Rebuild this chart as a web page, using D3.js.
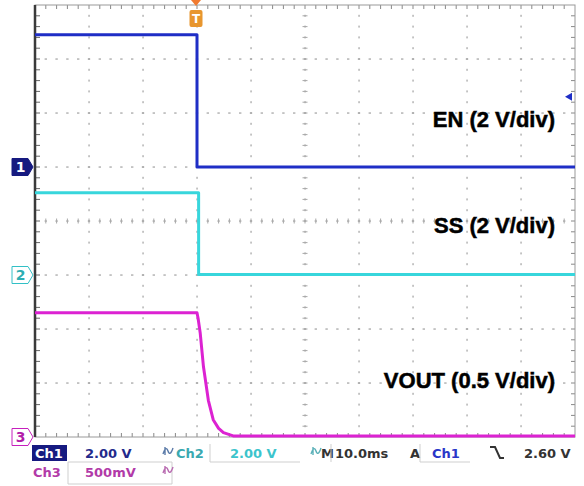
<!DOCTYPE html>
<html>
<head>
<meta charset="utf-8">
<script src="https://cdn.jsdelivr.net/npm/d3@7"></script>
<style>
  html, body { margin: 0; padding: 0; background: #fff; }
  svg { display: block; }
</style>
</head>
<body>
<svg id="scope" width="584" height="486"></svg>
<script>
// Capture: 10 ms/div, trigger on Ch1 falling edge at 2.60 V
const timeMs   = [0, 30, 30, 100];
const enVolts  = [4.9, 4.9, 0, 0];
const ssTime   = [0, 30.3, 30.3, 100];
const ssVolts  = [3.05, 3.05, 0.02, 0.02];
const voutTime = [0, 30.0, 30.2, 30.6, 31.2, 32.1, 33.0, 34.0, 34.9, 36.7, 100];
const voutVolts= [1.15, 1.15, 1.10, 0.96, 0.65, 0.34, 0.16, 0.08, 0.04, 0.01, 0.01];

const channels = [
  { name: "EN",   label: "EN (2 V/div)",     t: timeMs,   v: enVolts,   vdiv: 2,   offset: 5, color: "#1f2ec6", marker: "1" },
  { name: "SS",   label: "SS (2 V/div)",     t: ssTime,   v: ssVolts,   vdiv: 2,   offset: 3, color: "#38d6dc", marker: "2" },
  { name: "VOUT", label: "VOUT (0.5 V/div)", t: voutTime, v: voutVolts, vdiv: 0.5, offset: 0, color: "#dc22d2", marker: "3" }
];
const triggerTime = 30;
const triggerLevel = 2.6;

const svg = d3.select("#scope");
const L = 35, R = 575, T = 5, B = 437;
const x = d3.scaleLinear().domain([0, 100]).range([L, R]);
const yDiv = d3.scaleLinear().domain([0, 8]).range([B, T]);
const divW = (R - L) / 10, divH = (B - T) / 8;

// graticule
const grid = svg.append("g");
const gridCol = "#a8a8a8";
for (let i = 1; i < 10; i++) {
  const gx = L + i * divW;
  for (let k = 1; k < 40; k++) {
    const gy = T + k * divH / 5;
    grid.append("rect").attr("x", gx - 0.6).attr("y", gy - 1).attr("width", 1.3).attr("height", 2).attr("fill", gridCol);
  }
}
for (let j = 1; j < 8; j++) {
  const gy = T + j * divH;
  for (let k = 1; k < 50; k++) {
    const gx = L + k * divW / 5;
    grid.append("rect").attr("x", gx - 1.2).attr("y", gy - 0.6).attr("width", 2.4).attr("height", 1.3).attr("fill", gridCol);
  }
}
// centre cross ticks
const cx = L + 5 * divW, cy = T + 4 * divH;
for (let k = 1; k < 50; k++) {
  const gx = L + k * divW / 5;
  grid.append("line").attr("x1", gx).attr("x2", gx).attr("y1", cy - 2.5).attr("y2", cy + 2.5).attr("stroke", gridCol);
}
for (let k = 1; k < 40; k++) {
  const gy = T + k * divH / 5;
  grid.append("line").attr("x1", cx - 2.5).attr("x2", cx + 2.5).attr("y1", gy).attr("y2", gy).attr("stroke", gridCol);
}
// border ticks
for (let k = 1; k < 50; k++) {
  const gx = L + k * divW / 5;
  grid.append("line").attr("x1", gx).attr("x2", gx).attr("y1", T).attr("y2", T + 4).attr("stroke", "#888");
  grid.append("line").attr("x1", gx).attr("x2", gx).attr("y1", B).attr("y2", B - 4).attr("stroke", "#888");
}
for (let k = 1; k < 40; k++) {
  const gy = T + k * divH / 5;
  grid.append("line").attr("x1", L).attr("x2", L + 5).attr("y1", gy).attr("y2", gy).attr("stroke", "#666");
  grid.append("line").attr("x1", R).attr("x2", R - 4).attr("y1", gy).attr("y2", gy).attr("stroke", "#888");
}
svg.append("rect").attr("x", L).attr("y", T).attr("width", R - L).attr("height", B - T)
  .attr("fill", "none").attr("stroke", "#999").attr("stroke-width", 1);
svg.append("line").attr("x1", L).attr("x2", L).attr("y1", T).attr("y2", B)
  .attr("stroke", "#3a3a3a").attr("stroke-width", 2.5);

// traces
channels.forEach(ch => {
  const pts = ch.t.map((t, i) => [x(t), yDiv(ch.offset + ch.v[i] / ch.vdiv)]);
  svg.append("path")
    .attr("d", d3.line()(pts))
    .attr("fill", "none")
    .attr("stroke", ch.color)
    .attr("stroke-width", 3)
    .attr("stroke-linejoin", "round");
});

// ground reference markers at the left
channels.forEach((ch, i) => {
  const gy = yDiv(ch.offset);
  const g = svg.append("g").attr("transform", `translate(12,${gy})`);
  const filled = i === 0;
  g.append("path")
    .attr("d", "M0,-8.5 H16 L21,0 L16,8.5 H0 Z")
    .attr("fill", filled ? "#161a80" : "#fff")
    .attr("stroke", filled ? "#161a80" : d3.color(ch.color).darker(0.3))
    .attr("stroke-width", 1);
  g.append("text").attr("x", 8.5).attr("y", 5)
    .attr("text-anchor", "middle")
    .attr("font-family", "DejaVu Sans").attr("font-weight", "bold").attr("font-size", 14)
    .attr("fill", filled ? "#fff" : d3.color(ch.color).darker(0.6))
    .text(ch.marker);
});

// trigger position marker
const tx = x(triggerTime) - 1;
svg.append("path").attr("d", `M${tx - 5},0 H${tx + 5} L${tx},6 Z`).attr("fill", "#f07a30");
svg.append("rect").attr("x", tx - 6.5).attr("y", 10).attr("width", 13).attr("height", 17).attr("rx", 2)
  .attr("fill", "#e8962e");
svg.append("text").attr("x", tx).attr("y", 23).attr("text-anchor", "middle")
  .attr("font-family", "DejaVu Sans").attr("font-weight", "bold").attr("font-size", 12)
  .attr("fill", "#fff").text("T");

// trigger level marker on the right
const ty = yDiv(channels[0].offset + triggerLevel / channels[0].vdiv);
svg.append("path").attr("d", `M${R - 10},${ty} L${R - 3},${ty - 4} L${R - 3},${ty + 4} Z`).attr("fill", "#1f2ec6");

// channel labels
const labelY = [127, 233, 388];
channels.forEach((ch, i) => {
  svg.append("text")
    .attr("x", 555).attr("y", labelY[i])
    .attr("text-anchor", "end")
    .attr("font-family", "Liberation Sans, Arial, sans-serif")
    .attr("font-weight", "bold").attr("font-size", 22)
    .attr("fill", "#000")
    .attr("stroke", "#000").attr("stroke-width", 0.5)
    .text(ch.label);
});

// status readout
const st = svg.append("g").attr("font-family", "DejaVu Sans").attr("font-weight", "bold").attr("font-size", 13);
const faint = "#cfcfcf";
st.append("rect").attr("x", 32).attr("y", 445).attr("width", 35).attr("height", 16).attr("fill", "#161a80");
st.append("text").attr("x", 35).attr("y", 458).attr("fill", "#fff").text("Ch1");
st.append("text").attr("x", 85).attr("y", 458).attr("fill", "#232a8c").text("2.00 V");
st.append("text").attr("x", 176).attr("y", 458).attr("fill", "#3aa9b0").text("Ch2");
st.append("text").attr("x", 230).attr("y", 458).attr("fill", "#3cc4cc").text("2.00 V");
st.append("text").attr("x", 321).attr("y", 458).attr("fill", "#333").text("M");
st.append("text").attr("x", 335).attr("y", 458).attr("fill", "#333").text("10.0ms");
st.append("text").attr("x", 410).attr("y", 458).attr("fill", "#333").text("A");
st.append("text").attr("x", 432).attr("y", 458).attr("fill", "#2a36c8").text("Ch1");
st.append("text").attr("x", 524).attr("y", 458).attr("fill", "#333").text("2.60 V");
st.append("text").attr("x", 33).attr("y", 477).attr("fill", "#b23aa8").text("Ch3");
st.append("text").attr("x", 85).attr("y", 477).attr("fill", "#b23aa8").text("500mV");

// bandwidth-limit glyphs
function bw(x0, y0, col) {
  svg.append("path")
    .attr("d", `M${x0},${y0 + 7} q3,-9 5,-3 t5,-3 M${x0 + 2},${y0} v8`)
    .attr("fill", "none").attr("stroke", col).attr("stroke-width", 1.4);
}
bw(163, 447, "#5a7aa8");
bw(311, 447, "#5ab0b8");
bw(163, 466, "#b86ab0");

// falling-edge trigger slope glyph
svg.append("path").attr("d", "M490,447 H495 L500,458 H504")
  .attr("fill", "none").attr("stroke", "#333").attr("stroke-width", 2);

// faint readout frames
st.append("path").attr("d", "M68,462 H172 V484 M68,462 V484 H172").attr("fill", "none").attr("stroke", faint);
st.append("path").attr("d", "M210,444 V462 H300").attr("fill", "none").attr("stroke", faint);
st.append("path").attr("d", "M331,444 V462 M420,444 V462 H470").attr("fill", "none").attr("stroke", faint);
</script>
</body>
</html>
